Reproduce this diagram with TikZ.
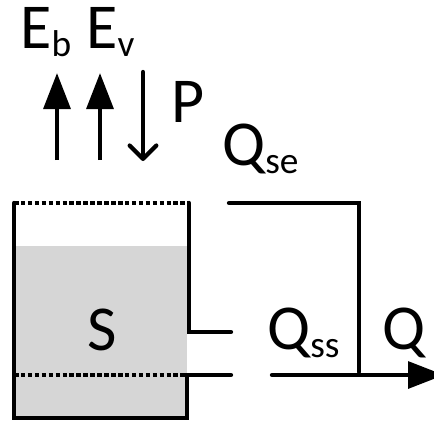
\documentclass[tikz,border=0pt]{standalone}
\usepackage{fontspec}
\setmainfont{Carlito}
\usetikzlibrary{arrows.meta}
\newcommand{\flux}[2]{#1{\fontsize{28}{28}\selectfont\raisebox{-6.5pt}{#2}}}
\tikzset{
  label text/.style={anchor=base west,inner sep=0pt,font=\fontsize{48}{48}\selectfont},
  wall/.style={line width=3.2pt,line cap=round,line join=miter},
  level/.style={line width=2.6pt,dash pattern=on 3.4pt off 1.8pt},
  solid tip/.style={line width=3.2pt,-{Triangle[width=20pt,length=27pt]}},
  open tip/.style={line width=3.2pt,line cap=round,-{Straight Barb[width=20pt,length=10pt,line width=3.2pt,round]}}
}
\begin{document}
\begin{tikzpicture}[x=0.75pt,y=-0.75pt]
\clip (0,0) rectangle (434,422);
\coordinate (tl) at (14,203);
\coordinate (bl) at (14,418);
\coordinate (br) at (187,418);
\coordinate (tr) at (189,203);
\coordinate (upper) at (189,332);
\coordinate (upperend) at (231,332);
\coordinate (lower) at (187,375);
\coordinate (lowerend) at (231,375);
\coordinate (lowerleft) at (14,375);
\coordinate (sefrom) at (229,203);
\coordinate (secorner) at (359,203);
\coordinate (sejoin) at (359,372);
\coordinate (qfrom) at (272,375);
\coordinate (qto) at (444,375);
\fill[black!16] (14,246) rectangle (187,418);
\draw[level] (tl) -- (tr);
\draw[level] (lowerleft) -- (lower);
\draw[wall] (tl) -- (bl) -- (br) -- (lower) -- (lowerend);
\draw[wall] (tr) -- (upper) -- (upperend);
\draw[wall] (sefrom) -- (secorner) -- (sejoin);
\draw[solid tip,line cap=round] (qfrom) -- (qto);
% fluxes at the top
\coordinate (ebfrom) at (57,160);
\coordinate (ebto) at (57,73);
\coordinate (evfrom) at (100,160);
\coordinate (evto) at (100,73);
\coordinate (pfrom) at (143,72);
\coordinate (pto) at (143,161);
\draw[solid tip] (ebfrom) -- (ebto);
\draw[solid tip] (evfrom) -- (evto);
\draw[open tip] (pfrom) -- (pto);
\node[label text] (Eb) at (20,48) {\flux{E}{b}};
\node[label text] (Ev) at (86,48) {\flux{E}{v}};
\node[label text] (P) at (171,122) {P};
\node[label text] (Qse) at (222,165) {\flux{Q}{se}};
\node[label text] (Qss) at (267,349) {\flux{Q}{ss}};
\node[label text] (Q) at (382,349) {Q};
\node[label text] (S) at (87,350) {S};
\end{tikzpicture}
\end{document}
